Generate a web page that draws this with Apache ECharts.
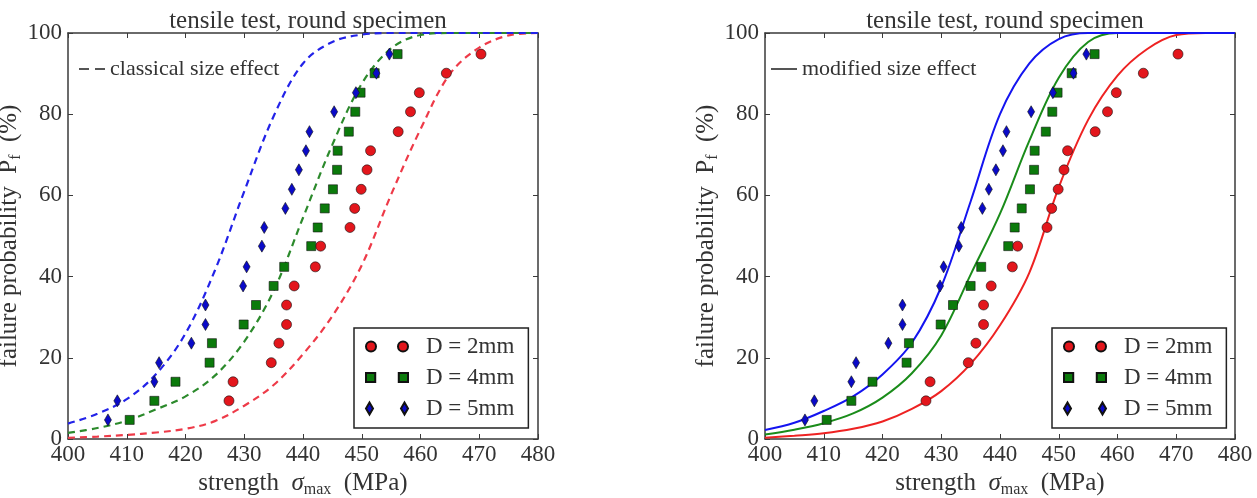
<!DOCTYPE html>
<html>
<head>
<meta charset="utf-8">
<script src="https://cdn.jsdelivr.net/npm/echarts@6/dist/echarts.min.js"></script>
<style>
html,body{margin:0;padding:0;background:#fff;}
#chart{width:1257px;height:498px;}
</style>
</head>
<body>
<div id="chart"></div>
<script>
// ---------- data ----------
const titleText = 'tensile test, round specimen';
const seriesNames = ['D = 2mm', 'D = 4mm', 'D = 5mm'];

// experimental points: strength (MPa) and failure probability (%)
const d2Strength = [427.4, 428.1, 434.6, 435.9, 437.2, 437.2, 438.5, 442.1, 443.0, 448.0, 448.8, 449.9, 450.9, 451.5, 456.2, 458.3, 459.8, 464.4, 470.3];
const d2Prob     = [9.4, 14.1, 18.8, 23.6, 28.2, 33.0, 37.7, 42.4, 47.5, 52.1, 56.8, 61.5, 66.3, 71.0, 75.7, 80.6, 85.3, 90.1, 94.8];

const d4Strength = [410.5, 414.7, 418.3, 424.1, 424.5, 429.9, 432.0, 435.0, 436.8, 441.4, 442.5, 443.7, 445.1, 445.8, 445.9, 447.8, 448.9, 449.8, 452.2, 456.1];
const d4Prob     = [4.7, 9.4, 14.1, 18.8, 23.6, 28.2, 33.0, 37.7, 42.4, 47.5, 52.1, 56.8, 61.5, 66.3, 71.0, 75.7, 80.6, 85.3, 90.1, 94.8];

const d5Strength = [406.8, 408.4, 414.7, 415.5, 421.0, 423.4, 423.4, 429.8, 430.4, 433.0, 433.4, 437.0, 438.1, 439.3, 440.5, 441.1, 445.3, 449.0, 452.5, 454.7];
const d5Prob     = [4.7, 9.4, 14.1, 18.8, 23.6, 28.2, 33.0, 37.7, 42.4, 47.5, 52.1, 56.8, 61.5, 66.3, 71.0, 75.7, 80.6, 85.3, 90.1, 94.8];

// model curves, read every 5 MPa
const curveStrength = [400, 405, 410, 415, 420, 425, 430, 435, 440, 445, 450, 455, 460, 465, 470, 475, 480];
const classical2 = [0.3, 0.6, 1.0, 1.6, 2.5, 4.4, 8.2, 13.3, 20.9, 30.3, 42.8, 60.2, 76.3, 89.9, 96.4, 99.4, 100];
const classical4 = [1.5, 2.7, 4.5, 7.3, 10.5, 15.6, 24.0, 36.5, 54.5, 72.5, 87.5, 96.2, 99.5, 100, 100, 100, 100];
const classical5 = [3.8, 6.2, 9.8, 16.0, 26.0, 41.5, 61.0, 79.5, 92.5, 97.8, 99.6, 100, 100, 100, 100, 100, 100];
const modified2  = [0.3, 0.8, 1.4, 2.5, 4.3, 7.4, 11.8, 18.5, 28.0, 41.0, 62.0, 78.6, 89.5, 96.0, 99.5, 100, 100];
const modified4  = [1.1, 2.3, 3.9, 6.3, 10.2, 16.2, 25.5, 40.5, 55.5, 73.5, 89.0, 97.8, 100, 100, 100, 100, 100];
const modified5  = [2.2, 4.0, 6.9, 10.5, 15.9, 23.7, 37.5, 58.5, 80.0, 92.5, 98.5, 100, 100, 100, 100, 100, 100];

// ---------- styling ----------
const FONT = 'Liberation Serif';
const TXT = '#333';
const AX = '#3a3a3a';
const markerColors = ['#e3161c', '#0b7a0b', '#0a0ac8'];
const dashColors = ['#ee3a48', '#2c8a2c', '#2222e8'];
const solidColors = ['#ee2222', '#1a8c1a', '#1414f0'];

const zip = (a, b) => a.map((v, i) => [v, b[i]]);

const grids = [
  {left: 68, top: 33, width: 470, height: 406, outerBoundsMode: 'none', containLabel: false},
  {left: 765, top: 33, width: 470, height: 406, outerBoundsMode: 'none', containLabel: false}
];

const labelStyle = {fontFamily: FONT, fontSize: 23, color: TXT};
const richText = {
  t: {fontFamily: FONT, fontSize: 25, color: TXT, verticalAlign: 'bottom', padding: [0, 0, 2, 0]},
  s: {fontFamily: FONT, fontSize: 25, fontStyle: 'italic', color: TXT, verticalAlign: 'bottom', padding: [0, 0, 2, 0]},
  sub: {fontFamily: FONT, fontSize: 16, color: TXT, verticalAlign: 'bottom'}
};

const xAxes = [], yAxes = [];
[0, 1].forEach(g => {
  xAxes.push({
    gridIndex: g, type: 'value', min: 400, max: 480, interval: 10, position: 'bottom',
    axisLine: {show: true, onZero: false, lineStyle: {color: AX, width: 1.5}},
    axisTick: {show: true, inside: true, length: 5, lineStyle: {color: AX, width: 1}},
    axisLabel: Object.assign({margin: 4}, labelStyle),
    splitLine: {show: false},
    name: '{t|strength  }{s|σ}{sub|max}{t|  (MPa)}',
    nameLocation: 'middle', nameGap: 31,
    nameTextStyle: {rich: richText}
  });
  xAxes.push({
    gridIndex: g, type: 'value', min: 400, max: 480, interval: 10, position: 'top',
    axisLine: {show: true, onZero: false, lineStyle: {color: AX, width: 1.5}},
    axisTick: {show: true, inside: true, length: 5, lineStyle: {color: AX, width: 1}},
    axisLabel: {show: false}, splitLine: {show: false}
  });
  yAxes.push({
    gridIndex: g, type: 'value', min: 0, max: 100, interval: 20, position: 'left',
    axisLine: {show: true, onZero: false, lineStyle: {color: AX, width: 1.5}},
    axisTick: {show: true, inside: true, length: 5, lineStyle: {color: AX, width: 1}},
    axisLabel: Object.assign({margin: 6}, labelStyle),
    splitLine: {show: false},
    name: '{t|failure probability  P}{sub|f}{t|  (%)}',
    nameLocation: 'middle', nameGap: 44, nameRotate: 90,
    nameTextStyle: {rich: richText}
  });
  yAxes.push({
    gridIndex: g, type: 'value', min: 0, max: 100, interval: 20, position: 'right',
    axisLine: {show: true, onZero: false, lineStyle: {color: AX, width: 1.5}},
    axisTick: {show: true, inside: true, length: 5, lineStyle: {color: AX, width: 1}},
    axisLabel: {show: false}, splitLine: {show: false}
  });
});

const pointSets = [zip(d2Strength, d2Prob), zip(d4Strength, d4Prob), zip(d5Strength, d5Prob)];
const symbols = ['circle', 'rect', 'diamond'];
const symbolSizes = [10, 9, [7, 12]];
const classical = [classical2, classical4, classical5];
const modified = [modified2, modified4, modified5];

const series = [];
// model curves
[0, 1, 2].forEach(i => {
  series.push({
    type: 'line', name: 'classical ' + seriesNames[i], xAxisIndex: 0, yAxisIndex: 0,
    data: zip(curveStrength, classical[i]), symbol: 'none', smooth: 0.35, silent: true, z: 2,
    lineStyle: {color: dashColors[i], width: 2.2, type: [7, 5]}
  });
  series.push({
    type: 'line', name: 'modified ' + seriesNames[i], xAxisIndex: 2, yAxisIndex: 2,
    data: zip(curveStrength, modified[i]), symbol: 'none', smooth: 0.35, silent: true, z: 2,
    lineStyle: {color: solidColors[i], width: 2}
  });
});
// legend-only line entries
series.push({
  type: 'line', name: 'classical size effect', xAxisIndex: 0, yAxisIndex: 0, data: [],
  symbol: 'none', itemStyle: {color: '#555'}, lineStyle: {color: '#555', width: 2, type: [6, 5]}
});
series.push({
  type: 'line', name: 'modified size effect', xAxisIndex: 2, yAxisIndex: 2, data: [],
  symbol: 'none', itemStyle: {color: '#555'}, lineStyle: {color: '#555', width: 2}
});
// experimental points
[0, 1, 2].forEach(i => {
  [0, 2].forEach(ax => {
    series.push({
      type: 'scatter', name: seriesNames[i], xAxisIndex: ax, yAxisIndex: ax,
      data: pointSets[i], symbol: symbols[i], symbolSize: symbolSizes[i], z: 4,
      itemStyle: {color: markerColors[i], borderColor: '#111', borderWidth: 0.6, opacity: 1}
    });
  });
});

const icons = [
  'path://M0,5A5,5 0 1,1 10,5A5,5 0 1,1 0,5ZM32,5A5,5 0 1,1 42,5A5,5 0 1,1 32,5Z',
  'path://M0.5,0.5L9.5,0.5L9.5,9.5L0.5,9.5ZM32.5,0.5L41.5,0.5L41.5,9.5L32.5,9.5Z',
  'path://M3.5,0L7,6L3.5,12L0,6ZM38.5,0L42,6L38.5,12L35,6Z'
];
const boxLegend = (left) => ({
  orient: 'vertical', left: left, top: 328, selectedMode: false,
  data: seriesNames.map((n, i) => ({name: n, icon: icons[i]})),
  itemWidth: 42, itemHeight: 12, itemGap: 8,
  padding: [7, 14, 8, 11],
  borderColor: '#222', borderWidth: 1.5, backgroundColor: '#fff', borderRadius: 0,
  textStyle: {fontFamily: FONT, fontSize: 23, color: TXT, padding: [0, 0, 0, 13], lineHeight: 22}
});
const lineIcons = {
  'classical size effect': 'path://M0,0L10,0L10,2L0,2ZM16,0L26,0L26,2L16,2Z',
  'modified size effect': 'path://M0,0L26,0L26,2L0,2Z'
};
const lineLegend = (left, name) => ({
  left: left, top: 58, selectedMode: false,
  data: [{name: name, icon: lineIcons[name], itemStyle: {color: '#555', borderWidth: 0}}],
  itemWidth: 26, itemHeight: 2, padding: 0,
  textStyle: {fontFamily: FONT, fontSize: 22, color: TXT}
});

const option = {
  animation: false,
  backgroundColor: '#fff',
  title: [
    {text: titleText, left: 303, top: 4, textAlign: 'center',
     textStyle: {fontFamily: FONT, fontSize: 25, fontWeight: 'normal', color: TXT}},
    {text: titleText, left: 1000, top: 4, textAlign: 'center',
     textStyle: {fontFamily: FONT, fontSize: 25, fontWeight: 'normal', color: TXT}}
  ],
  legend: [
    lineLegend(79, 'classical size effect'),
    lineLegend(771, 'modified size effect'),
    boxLegend(354),
    boxLegend(1052)
  ],
  grid: grids,
  xAxis: xAxes,
  yAxis: yAxes,
  series: series
};

const chart = echarts.init(document.getElementById('chart'), null, {renderer: 'canvas'});
chart.setOption(option);
</script>
</body>
</html>
